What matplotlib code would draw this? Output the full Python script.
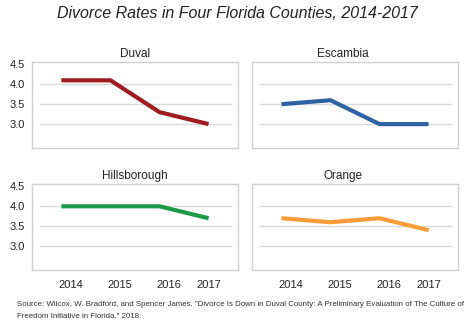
import matplotlib
matplotlib.use('Agg')
import matplotlib.pyplot as plt

plt.rcParams['font.family'] = ['Liberation Sans', 'DejaVu Sans']

# data
years = ['2014', '2015', '2016', '2017']
counties = ['Duval', 'Escambia', 'Hillsborough', 'Orange']
duval = [4.1, 4.1, 3.3, 3.0]
escambia = [3.5, 3.6, 3.0, 3.0]
hillsborough = [4.0, 4.0, 4.0, 3.7]
orange = [3.7, 3.6, 3.7, 3.4]
yticks = [3.0, 3.5, 4.0, 4.5]

series = [duval, escambia, hillsborough, orange]
colors = ['#9E1B20', '#2E63A2', '#1B9A46', '#F79C38']

fig = plt.figure(figsize=(4.75, 3.28), dpi=100)

W, H = 475.0, 328.0
# (left px, top px) of each panel box
boxes = [(32, 62), (252, 62), (32, 184), (252, 184)]
bw, bh = 206, 86

fig.text(0.5, 1 - 13 / H, 'Divorce Rates in Four Florida Counties, 2014-2017',
         ha='center', va='center', fontsize=11.5, style='italic', color='#222222')

for i, (name, vals, col) in enumerate(zip(counties, series, colors)):
    left, top = boxes[i]
    ax = fig.add_axes([left / W, 1 - (top + bh) / H, bw / W, bh / H])
    x = list(range(len(vals)))
    ax.hlines([3.0, 3.5, 4.0], -0.45, 3.48, color='#D9D9D9', linewidth=1, zorder=1)
    ax.plot(x, vals, color=col, linewidth=3, solid_capstyle='butt', zorder=3)
    ax.set_xlim(-0.6, 3.6)
    ax.set_ylim(2.4, 4.56)
    for s in ax.spines.values():
        s.set_color('#D0D0D0')
        s.set_linewidth(1)
    ax.tick_params(length=0, labelsize=8, colors='#222222', pad=5)

    if i % 2 == 0:
        ax.set_yticks(yticks)
        ax.set_yticklabels(['%.1f' % v for v in yticks])
    else:
        ax.set_yticks([])

    if i >= 2:
        # the year labels sit a little right of the points in the original
        ax.set_xticks([0.2, 1.2, 2.2, 3.0])
        ax.set_xticklabels(years)
        ax.tick_params(axis='x', pad=7)
    else:
        ax.set_xticks([])

    tx = 0.5 if i % 2 == 0 else 0.44
    ax.text(tx, 1.0 + 8 / bh, name, transform=ax.transAxes, ha='center',
            va='center', fontsize=8.5, color='#222222')

fig.text(17 / W, 1 - 304 / H,
         'Source: Wilcox, W. Bradford, and Spencer James. "Divorce Is Down in Duval County: '
         'A Preliminary Evaluation of The Culture of',
         fontsize=5.7, color='#333333', va='center')
fig.text(17 / W, 1 - 316 / H, 'Freedom Initiative in Florida." 2018.',
         fontsize=5.7, color='#333333', va='center')

fig.savefig('out.png', dpi=100)
